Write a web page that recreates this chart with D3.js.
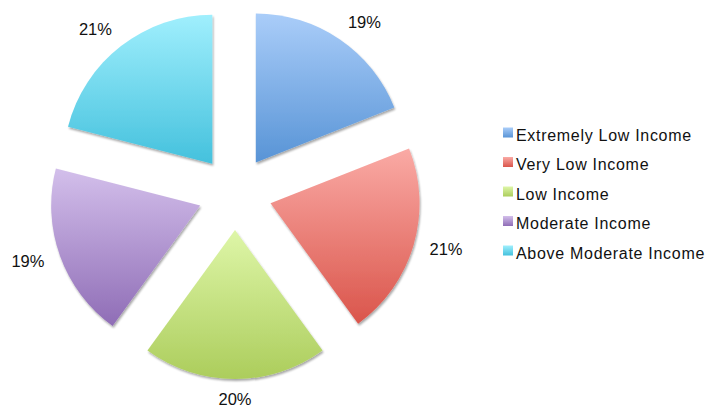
<!DOCTYPE html>
<html>
<head>
<meta charset="utf-8">
<script src="https://cdn.jsdelivr.net/npm/d3@7"></script>
<style>
  html, body { margin: 0; padding: 0; background: #ffffff; }
  svg { display: block; }
  text { font-family: "Liberation Sans", Arial, sans-serif; fill: #111; }
</style>
</head>
<body>
<svg id="chart" width="709" height="408"></svg>
<script>
// Income categories and their shares (percent)
const categories = ["Extremely Low Income", "Very Low Income", "Low Income", "Moderate Income", "Above Moderate Income"];
const shares = [19, 21, 20, 19, 21];
const labels = ["19%", "21%", "20%", "19%", "21%"];
// Gradient stops per slice: light top, deep bottom
const topColors = ["#aacdf9", "#faaaa5", "#def6a8", "#d3bfeb", "#a0effd"];
const bottomColors = ["#5894d6", "#da554b", "#accd5c", "#8f6db6", "#44c1dd"];

const svg = d3.select("#chart");
const cx = 235, cy = 193;
const radius = 149;
const explode = 37;

const defs = svg.append("defs");
categories.forEach((c, i) => {
  const g = defs.append("linearGradient")
    .attr("id", "grad" + i)
    .attr("x1", 0).attr("y1", 0).attr("x2", 0).attr("y2", 1);
  g.append("stop").attr("offset", "0%").attr("stop-color", topColors[i]);
  g.append("stop").attr("offset", "100%").attr("stop-color", bottomColors[i]);
});
const shadow = defs.append("filter").attr("id", "shadow")
  .attr("x", "-10%").attr("y", "-10%").attr("width", "125%").attr("height", "125%");
shadow.append("feGaussianBlur").attr("in", "SourceAlpha").attr("stdDeviation", 1.3).attr("result", "b");
shadow.append("feOffset").attr("in", "b").attr("dx", 1).attr("dy", 1.5).attr("result", "o");
shadow.append("feComponentTransfer").attr("in", "o").attr("result", "s")
  .append("feFuncA").attr("type", "linear").attr("slope", 0.35);
const merge = shadow.append("feMerge");
merge.append("feMergeNode").attr("in", "s");
merge.append("feMergeNode").attr("in", "SourceGraphic");

const pie = d3.pie().sort(null).value(d => d);
const arcs = pie(shares);
const arc = d3.arc().innerRadius(0).outerRadius(radius);

const gPie = svg.append("g").attr("transform", `translate(${cx},${cy})`);

arcs.forEach((a, i) => {
  const mid = (a.startAngle + a.endAngle) / 2;
  const dx = Math.sin(mid) * explode, dy = -Math.cos(mid) * explode;
  gPie.append("path")
    .attr("d", arc(a))
    .attr("transform", `translate(${dx},${dy})`)
    .attr("fill", `url(#grad${i})`)
    .attr("filter", "url(#shadow)");
});

// Percentage labels: the label box's nearest edge/corner sits on a ring outside the slices
const fontSize = 16.5;
const halfW = 17, halfH = 6;
const labelRing = 200;
arcs.forEach((a, i) => {
  const mid = (a.startAngle + a.endAngle) / 2;
  const s = Math.sin(mid), c = -Math.cos(mid);
  let x, y;
  if (Math.abs(s) > 0.9) {
    // side labels: vertically centred on the ray
    x = s * (labelRing + 2) + Math.sign(s) * halfW;
    y = c * (labelRing + 2);
  } else {
    x = s * labelRing + (Math.abs(s) > 0.05 ? Math.sign(s) * halfW : 0);
    y = c * labelRing + Math.sign(c) * halfH;
  }
  gPie.append("text")
    .attr("x", x)
    .attr("y", y)
    .attr("dy", "0.36em")
    .attr("text-anchor", "middle")
    .style("font-size", fontSize + "px")
    .text(labels[i]);
});

// Legend
const legend = svg.append("g").attr("transform", "translate(503,135)");
const rowH = 29.5;
categories.forEach((c, i) => {
  const row = legend.append("g").attr("transform", `translate(0,${i * rowH})`);
  row.append("rect")
    .attr("x", 0).attr("y", -7.5).attr("width", 10).attr("height", 10)
    .attr("fill", `url(#grad${i})`);
  row.append("text")
    .attr("x", 13).attr("y", 0).attr("dy", "0.36em")
    .style("font-size", "16px")
    .style("letter-spacing", "0.7px")
    .text(c);
});
</script>
</body>
</html>
